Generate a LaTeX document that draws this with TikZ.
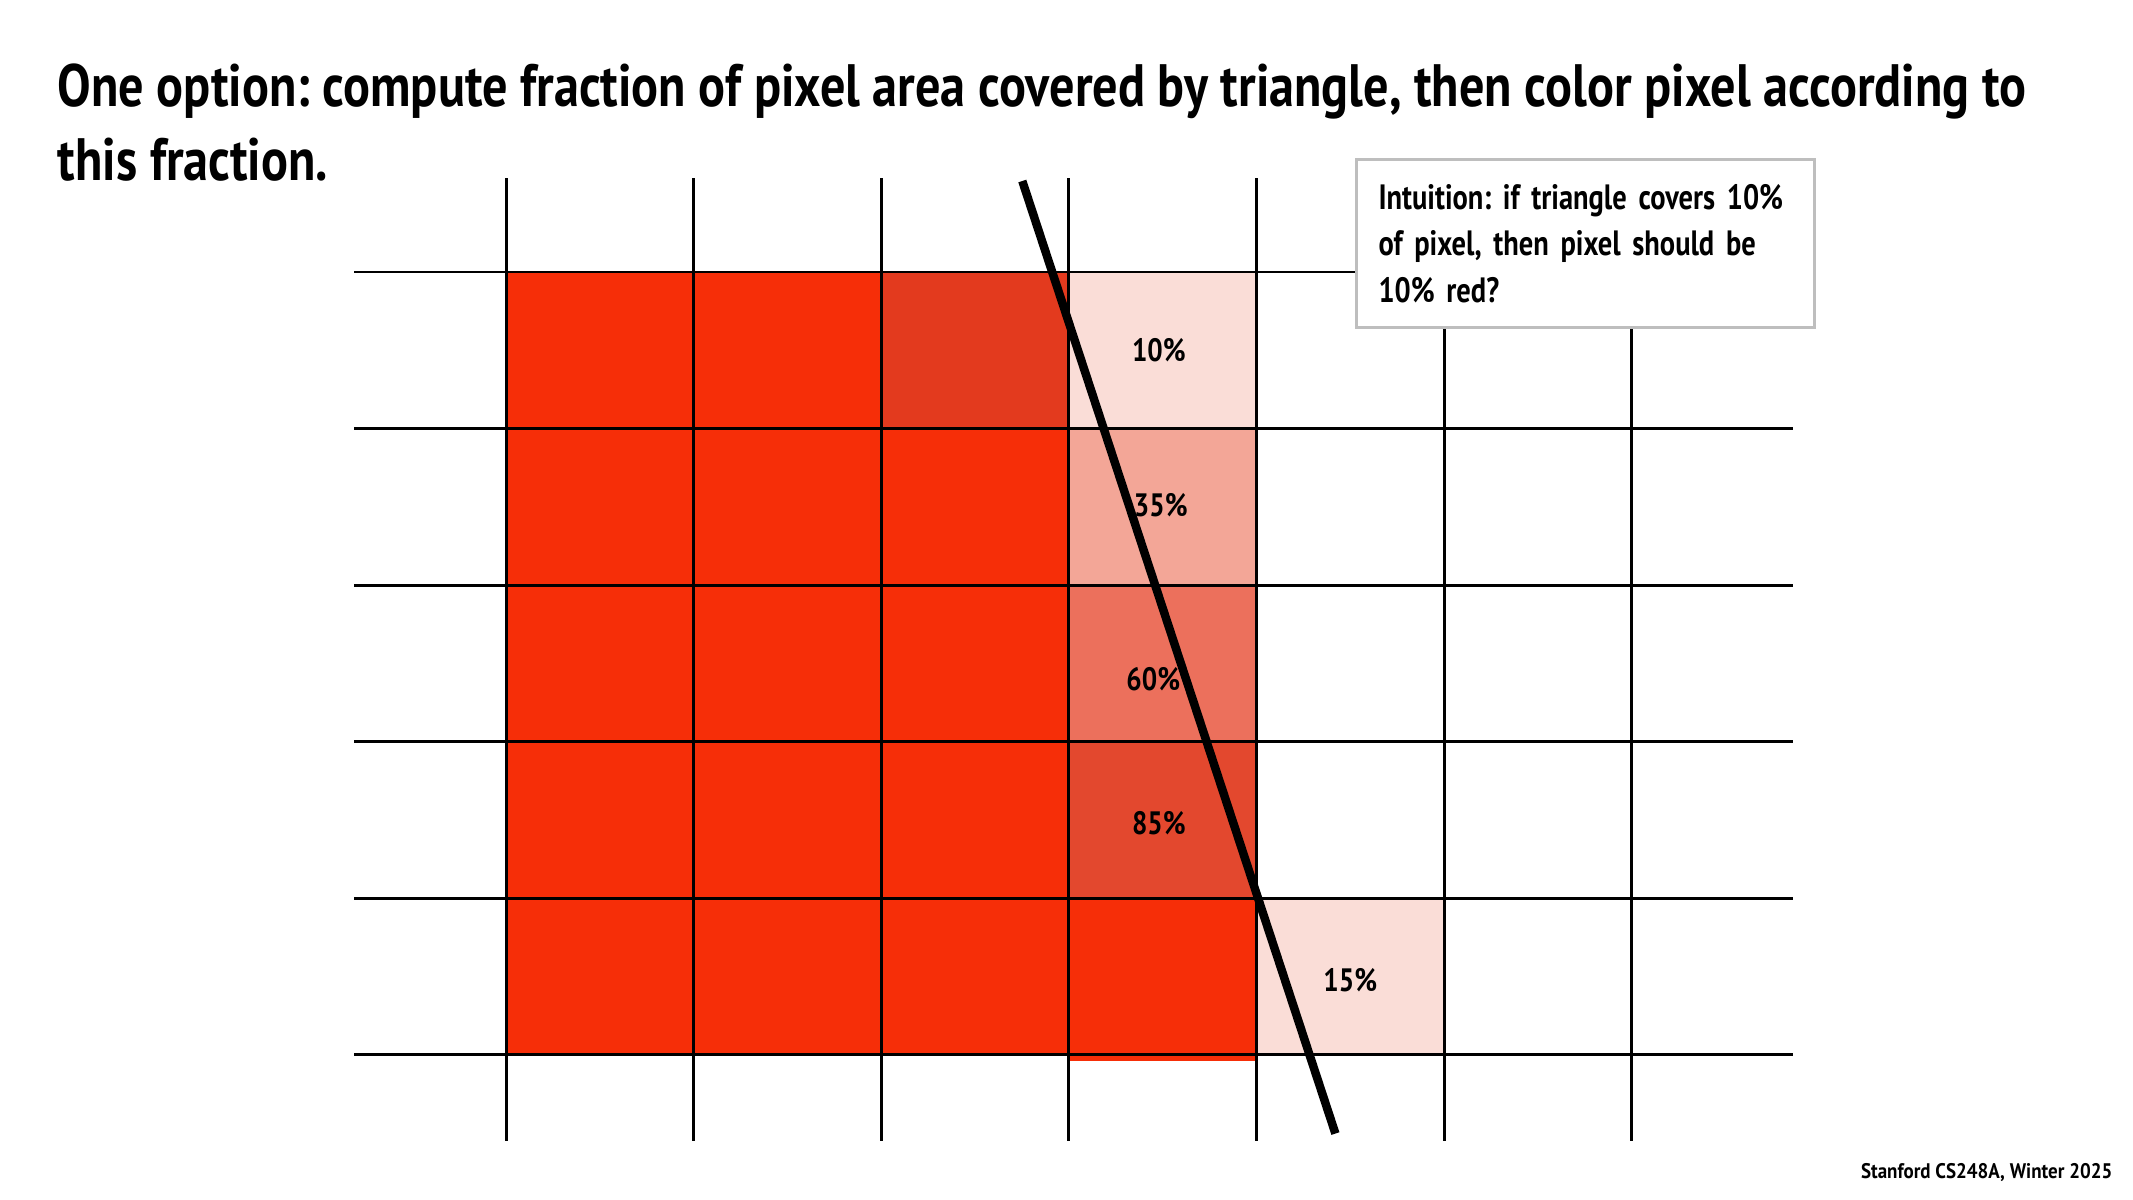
\documentclass[tikz,border=0pt]{standalone}
\usepackage{fontspec}
\setmainfont{PT Sans}[FakeStretch=0.84]
\newfontfamily\notefont{PT Sans}[FakeStretch=0.81]
\newfontfamily\creditfont{PT Sans}[FakeStretch=0.90]
\usepackage{tikz}
\frenchspacing
\definecolor{fullred}{RGB}{246,46,8}
\definecolor{edgered}{RGB}{227,58,30}
\definecolor{cover10}{RGB}{250,221,215}
\definecolor{cover35}{RGB}{243,166,151}
\definecolor{cover60}{RGB}{236,112,92}
\definecolor{cover85}{RGB}{227,72,46}
\definecolor{boxgray}{RGB}{190,190,190}

\begin{document}
\begin{tikzpicture}[
  x=0.01cm,
  y=-0.01cm,
  gridline/.style={draw=black, line width=0.85pt},
  edgeline/.style={draw=black, line width=2.4pt},
  coverlabel/.style={font=\bfseries\fontsize{9.2}{11}\selectfont},
  notebox/.style={draw=boxgray, line width=0.85pt, fill=white, align=left,
    text width=4.14cm, inner xsep=2.2mm, inner ysep=0pt, minimum height=16.8mm,
    font=\notefont\bfseries\fontsize{10}{13.2}\selectfont}
]
  \useasboundingbox (0,0) rectangle (2133,1200);

  \node[anchor=base west, align=left, inner sep=0pt,
    font=\bfseries\fontsize{17}{21}\selectfont] (title) at (57,180)
    {One option: compute fraction of pixel area covered by triangle, then color pixel according to\\
     this fraction.};

  \begin{scope}[shift={(506,272)}, x=1.875cm, y=-1.565cm]
    \foreach \i in {0,1,2} {
      \foreach \j in {0,...,4} {
        \fill[fullred] (\i,\j) rectangle ++(1,1);
      }
    }
    \fill[edgered] (2,0) rectangle ++(1,1);
    \fill[cover10] (3,0) rectangle ++(1,1);
    \fill[cover35] (3,1) rectangle ++(1,1);
    \fill[cover60] (3,2) rectangle ++(1,1);
    \fill[cover85] (3,3) rectangle ++(1,1);
    \fill[fullred] (3,4) rectangle (4,5.04);
    \fill[cover10] (4,4) rectangle ++(1,1);

    \foreach \i in {0,...,6} {
      \draw[gridline] (\i,-0.6) -- (\i,5.55);
    }
    \foreach \j in {0,...,5} {
      \draw[gridline] (-0.81,\j) -- (6.86,\j);
    }

    \coordinate (edgetop) at (2.752,-0.581);
    \coordinate (edgebot) at (4.421,5.502);
    \draw[edgeline] (edgetop) -- (edgebot);

    \node[coverlabel] (p10) at (3.48,0.5) {10\%};
    \node[coverlabel] (p35) at (3.49,1.49) {35\%};
    \node[coverlabel] (p60) at (3.45,2.6) {60\%};
    \node[coverlabel] (p85) at (3.48,3.52) {85\%};
    \node[coverlabel] (p15) at (4.5,4.52) {15\%};
  \end{scope}

  \node[notebox, anchor=north west] (note) at (1355,158)
    {Intuition: if triangle covers 10\%\\of pixel, then pixel should be\\10\% red?};

  \node[anchor=base east, inner sep=0pt, font=\creditfont\bfseries\fontsize{6}{7}\selectfont]
    (credit) at (2113,1178) {Stanford CS248A, Winter 2025};
\end{tikzpicture}
\end{document}
